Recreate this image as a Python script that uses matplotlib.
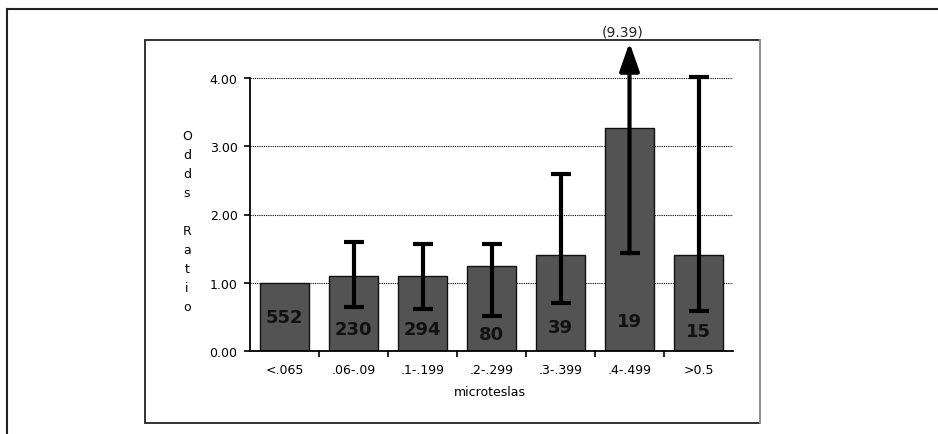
import matplotlib
matplotlib.use("Agg")
import matplotlib.pyplot as plt
from matplotlib.lines import Line2D
from matplotlib.patches import Rectangle, ArrowStyle
import numpy as np

# data
categories = ["<.065", ".06-.09", ".1-.199", ".2-.299", ".3-.399", ".4-.499", ">0.5"]
odds_ratio = [1.00, 1.10, 1.10, 1.25, 1.40, 3.27, 1.40]
ci_low = [np.nan, 0.64, 0.61, 0.51, 0.71, 1.43, 0.58]
ci_high = [np.nan, 1.60, 1.57, 1.57, 2.60, 9.39, 4.02]
cases = [552, 230, 294, 80, 39, 19, 15]
yticks = [0, 1, 2, 3, 4]

W, H = 938, 435
fig = plt.figure(figsize=(W / 100, H / 100), dpi=100)
fig.patch.set_facecolor("white")


def fx(px):
    return px / W


def fy(py):
    return 1 - py / H


ax = fig.add_axes([fx(250), fy(352), fx(733) - fx(250), fy(79) - fy(352)])
x = np.arange(len(categories))
ymax = yticks[-1]

ax.set_ylim(0, ymax)
ax.set_xlim(-0.5, len(categories) - 0.5)
ax.grid(axis="y", linestyle=(0, (1, 1)), color="black", linewidth=0.8)
ax.set_axisbelow(True)

ax.bar(x, odds_ratio, width=0.7, color="#535353", edgecolor="#111111",
       linewidth=1.0, zorder=2)

# error bars that fit inside the axis
fits = [i for i in x if not np.isnan(ci_low[i]) and ci_high[i] <= ymax + 0.1]
for i in fits:
    ax.errorbar(x[i], odds_ratio[i],
                yerr=[[odds_ratio[i] - ci_low[i]], [ci_high[i] - odds_ratio[i]]],
                fmt="none", ecolor="black", elinewidth=3, capsize=7,
                capthick=3, zorder=3, clip_on=False)

# the one that runs off the top: arrow plus value in brackets
big = [i for i in x if not np.isnan(ci_low[i]) and ci_high[i] > ymax + 0.1]
for i in big:
    ax.plot([x[i]], [ci_low[i]], marker="_", markersize=14, mew=3,
            color="black", zorder=3)
    ax.annotate("", xy=(x[i], 1.13), xycoords=("data", "axes fraction"),
                xytext=(x[i], ci_low[i]), textcoords="data",
                arrowprops=dict(arrowstyle=ArrowStyle("-|>", head_length=0.4,
                                                      head_width=0.14),
                                mutation_scale=43, lw=3, color="black",
                                shrinkA=0, shrinkB=0),
                zorder=4, annotation_clip=False)
    ax.text(x[i] - 0.1, 1.172, "({:.2f})".format(ci_high[i]),
            transform=ax.get_xaxis_transform(), ha="center", va="center",
            fontsize=10, color="#222222")

# case counts inside the bars
label_y = [0.50, 0.32, 0.32, 0.25, 0.35, 0.44, 0.30]
for i in x:
    ax.text(x[i], label_y[i], str(cases[i]), ha="center", va="center",
            fontsize=13, fontweight="bold", color="#111111", zorder=5)

ax.set_yticks(yticks)
ax.set_yticklabels(["%.2f" % v for v in yticks], fontsize=9)
ax.set_xticks(x)
ax.set_xticklabels(categories, fontsize=9)
ax.set_xticks(x[:-1] + 0.5, minor=True)
ax.tick_params(axis="x", which="major", length=0, pad=9)
ax.tick_params(axis="x", which="minor", length=4, width=1.2, direction="out")
ax.tick_params(axis="y", length=4, width=1.2, pad=5)
for s in ["top", "right"]:
    ax.spines[s].set_visible(False)
for s in ["left", "bottom"]:
    ax.spines[s].set_linewidth(1.3)

fig.text(fx(490), fy(393), "microteslas", ha="center", va="center", fontsize=9)
fig.text(fx(187), fy(222), "O\nd\nd\ns\n\nR\na\nt\ni\no", ha="center",
         va="center", fontsize=9, linespacing=1.6)

# inner chart box
fig.add_artist(Rectangle((fx(145), fy(424)), fx(760) - fx(145), fy(41) - fy(424),
                         transform=fig.transFigure, fill=False,
                         edgecolor="#222222", linewidth=1.3))
fig.add_artist(Line2D([fx(760), fx(760)], [fy(424), fy(41)],
                      transform=fig.transFigure, color="#9a9a9a", linewidth=1.3))

# outer page frame
fig.add_artist(Line2D([fx(7), fx(938)], [fy(10), fy(10)],
                      transform=fig.transFigure, color="#222222", linewidth=1.5))
fig.add_artist(Line2D([fx(7), fx(7)], [fy(10), fy(435)],
                      transform=fig.transFigure, color="#222222", linewidth=1.5))

fig.savefig("out.png", dpi=100)
